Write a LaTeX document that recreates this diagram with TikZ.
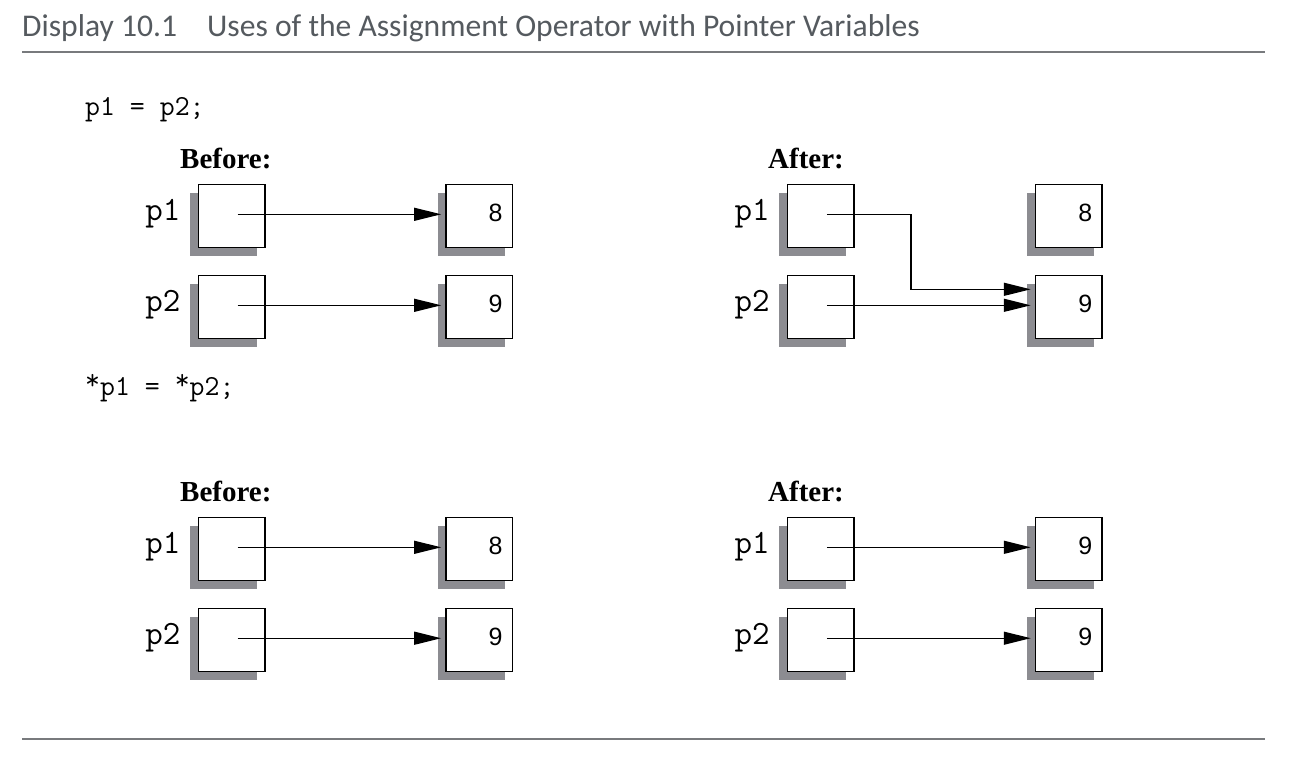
\documentclass[tikz,border=0pt]{standalone}
\usepackage{fontspec}
\setmainfont{Liberation Serif}
\newfontfamily\titlefont{Carlito}
\newfontfamily\numfont{Liberation Sans}
\usetikzlibrary{arrows.meta,shadows,calc}
\definecolor{shadowgray}{RGB}{140,140,145}
\definecolor{titlegray}{RGB}{85,90,95}
\definecolor{rulegray}{RGB}{120,122,125}
\newcommand{\upstar}{\raisebox{0.2em}{*}}
\begin{document}
\begin{tikzpicture}[x=1pt,y=-1pt,
  cell/.style={draw=black, line width=1.4pt, fill=white, minimum width=66.7pt, minimum height=63pt, inner sep=0pt,
    general shadow={fill=shadowgray, draw=none, shadow xshift=-8pt, shadow yshift=-8.5pt}},
  ptr/.style={line width=1.3pt, -{Triangle[length=27pt,width=13pt]}, shorten >=4pt},
  lbl/.style={font=\ttfamily\fontsize{34}{34}\selectfont, anchor=east, inner sep=0pt},
  code/.style={font=\ttfamily\fontsize{29}{29}\selectfont, anchor=base west, inner sep=0pt},
  head/.style={font=\bfseries\fontsize{29}{29}\selectfont, anchor=base west, inner sep=0pt},
  num/.style={font=\numfont\fontsize{25}{25}\selectfont, anchor=east, inner sep=0pt},
  ttl/.style={font=\titlefont\fontsize{31.6}{31.6}\selectfont, text=titlegray, anchor=base west, inner sep=0pt},
  rulefmt/.style={draw=rulegray, line width=2pt}]
\path[use as bounding box] (0,0) rectangle (1290,774);

% title and rules
\node[ttl] (t1) at (22,36) {Display 10.1};
\node[ttl] (t2) at (207,36) {Uses of the Assignment Operator with Pointer Variables};
\coordinate (r1a) at (22,52.3); \coordinate (r1b) at (1265,52.3);
\coordinate (r2a) at (22,739.3); \coordinate (r2b) at (1265,739.3);
\draw[rulefmt] (r1a) -- (r1b);
\draw[rulefmt] (r2a) -- (r2b);

% code lines
\node[code] (c1) at (85,115) {p1 = p2;};
\node[code] (c2) at (85,395) {\upstar p1 = \upstar p2;};

% headings
\node[head] (h1) at (180,168.3) {Before:};
\node[head] (h2) at (768,168.3) {After:};
\node[head] (h3) at (180,501.7) {Before:};
\node[head] (h4) at (768,501.7) {After:};

% ---------- top section ----------
\node[cell] (a1) at (231.7,215.8) {};
\node[cell] (a2) at (231.7,306.8) {};
\node[cell] (b1) at (479.2,215.8) {};
\node[cell] (b2) at (479.2,306.8) {};
\node[cell] (e1) at (820.8,215.8) {};
\node[cell] (e2) at (820.8,306.8) {};
\node[cell] (d1) at (1068.8,215.8) {};
\node[cell] (d2) at (1068.8,306.8) {};

% ---------- bottom section ----------
\node[cell] (a3) at (231.7,548.8) {};
\node[cell] (a4) at (231.7,639.7) {};
\node[cell] (b3) at (479.2,548.8) {};
\node[cell] (b4) at (479.2,639.7) {};
\node[cell] (e3) at (820.8,548.8) {};
\node[cell] (e4) at (820.8,639.7) {};
\node[cell] (d3) at (1068.8,548.8) {};
\node[cell] (d4) at (1068.8,639.7) {};

% labels
\foreach \n/\t in {a1/p1,a2/p2,e1/p1,e2/p2,a3/p1,a4/p2,e3/p1,e4/p2}
  \node[lbl] (l-\n) at ($(\n.west)+(-17,-2)$) {\t};

% numbers
\foreach \n/\t in {b1/8,b2/9,d1/8,d2/9,b3/8,b4/9,d3/9,d4/9}
  \node[num] (n-\n) at ($(\n.east)+(-10.5,-3)$) {\t};

% arrow start points
\foreach \n in {a1,a2,e1,e2,a3,a4,e3,e4}
  \coordinate (s-\n) at ($(\n.center)+(6,-1.5)$);
\coordinate (k1) at (911,289.3);

\draw[ptr] (s-a1) -- (s-a1 -| b1.west);
\draw[ptr] (s-a2) -- (s-a2 -| b2.west);
\draw[ptr] (s-e1) -| (k1) -- (k1 -| d2.west);
\draw[ptr] (s-e2) -- (s-e2 -| d2.west);
\draw[ptr] (s-a3) -- (s-a3 -| b3.west);
\draw[ptr] (s-a4) -- (s-a4 -| b4.west);
\draw[ptr] (s-e3) -- (s-e3 -| d3.west);
\draw[ptr] (s-e4) -- (s-e4 -| d4.west);
\end{tikzpicture}
\end{document}
